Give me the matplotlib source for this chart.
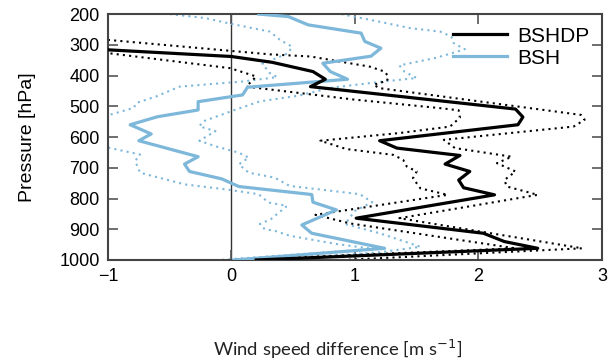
import matplotlib.pyplot as plt

plt.rcParams['font.family'] = ['Liberation Sans', 'DejaVu Sans']

# BSHDP (black) - mean and two bounds, x = wind speed difference, p = pressure
bshdp_p = [200, 250, 300, 338, 357, 387, 412, 436, 509, 535, 560, 612, 636, 660, 688,
           712, 740, 765, 788, 864, 913, 940, 962, 1000]
bshdp_x = [-2.2, -2.0, -1.75, 0.0, 0.33, 0.66, 0.76, 0.64, 2.30, 2.36, 2.32, 1.20, 1.34,
           1.85, 1.73, 1.93, 1.84, 1.88, 2.13, 1.01, 2.04, 2.21, 2.48, 0.2]

bshdp_hi_p = [200, 250, 284, 331, 338, 358, 371, 387, 403, 417, 430, 441, 528, 544, 566,
              609, 636, 664, 685, 712, 740, 761, 788, 864, 962, 1000]
bshdp_hi_x = [-1.9, -1.6, -1.0, 0.31, 0.64, 0.93, 1.12, 1.24, 1.27, 1.26, 1.15, 1.20, 2.83,
              2.86, 2.77, 1.72, 1.81, 2.27, 2.15, 2.30, 2.21, 2.23, 2.48, 1.36, 2.84, 0.9]

bshdp_lo_p = [200, 250, 300, 327, 376, 403, 436, 478, 506, 513, 537, 566, 587, 612, 639,
              658, 674, 696, 712, 734, 767, 788, 853, 881, 935, 962, 1000]
bshdp_lo_x = [-2.5, -2.3, -1.6, -1.0, -0.01, 0.20, 0.12, 0.99, 1.69, 1.84, 1.85, 1.77, 1.36,
              0.72, 0.93, 1.31, 1.39, 1.42, 1.50, 1.47, 1.53, 1.75, 0.68, 0.96, 1.85, 2.30, 0.0]

# BSH (light blue)
bsh_p = [200, 208, 235, 262, 289, 311, 337, 360, 387, 412, 438, 463, 485, 512, 534, 560,
         590, 612, 664, 688, 712, 736, 761, 787, 812, 837, 886, 913, 962, 1000]
bsh_x = [0.22, 0.46, 0.62, 1.05, 1.08, 1.21, 1.13, 0.74, 0.80, 0.94, 0.13, 0.09, -0.27,
         -0.27, -0.60, -0.82, -0.65, -0.75, -0.27, -0.38, -0.34, -0.08, 0.06, 0.65, 0.66,
         0.85, 0.57, 0.65, 1.24, 0.02]

bsh_hi_p = [200, 225, 246, 257, 273, 295, 314, 322, 343, 367, 387, 408, 418, 440, 465, 484,
            510, 549, 565, 581, 612, 630, 651, 667, 689, 716, 732, 759, 786, 812, 840, 883,
            913, 957, 975, 1000]
bsh_hi_x = [0.89, 1.20, 1.45, 1.69, 1.78, 1.80, 1.89, 1.83, 1.65, 1.36, 1.40, 1.50, 1.26,
            0.80, 0.55, 0.23, 0.04, -0.23, -0.26, -0.13, -0.26, -0.13, 0.06, 0.14, 0.06,
            0.14, 0.35, 0.47, 1.04, 1.14, 1.00, 0.92, 1.20, 1.53, 1.2, 0.3]

bsh_lo_p = [200, 213, 232, 257, 283, 306, 327, 362, 392, 405, 419, 436, 468, 489, 505, 527,
            560, 600, 636, 657, 678, 716, 754, 770, 786, 813, 824, 867, 883, 900, 905, 921,
            948, 964, 1000]
bsh_lo_x = [-0.50, -0.21, 0.0, 0.31, 0.39, 0.49, 0.46, 0.25, 0.31, 0.37, 0.10, -0.42, -0.61,
            -0.77, -0.79, -0.98, -1.2, -1.3, -0.98, -0.74, -0.78, -0.74, -0.38, -0.05, 0.22,
            0.30, 0.45, 0.32, 0.23, 0.27, 0.35, 0.47, 0.85, 1.15, -0.1]

xticks = [-1, 0, 1, 2, 3]
xticklabels = ['\u22121', '0', '1', '2', '3']
yticks = [200, 300, 400, 500, 600, 700, 800, 900, 1000]

blue = '#7db7da'
dots = (0, (1, 2))

fig = plt.figure(figsize=(6.08, 3.61), dpi=100)
ax = fig.add_axes([0.1776, 0.2798, 0.8124, 0.6812])

ax.axvline(0, color='#333333', lw=1.0, zorder=1)

ax.plot(bsh_hi_x, bsh_hi_p, color=blue, lw=1.5, ls=dots)
ax.plot(bsh_lo_x, bsh_lo_p, color=blue, lw=1.5, ls=dots)
ax.plot(bshdp_hi_x, bshdp_hi_p, color='black', lw=1.5, ls=dots)
ax.plot(bshdp_lo_x, bshdp_lo_p, color='black', lw=1.5, ls=dots)
ax.plot(bsh_x, bsh_p, color=blue, lw=2.3, label='BSH', zorder=4)
ax.plot(bshdp_x, bshdp_p, color='black', lw=2.3, label='BSHDP', zorder=5)

ax.set_xlim(-1, 3)
ax.set_ylim(1000, 200)
ax.set_xticks(xticks)
ax.set_xticklabels(xticklabels)
ax.set_yticks(yticks)
ax.tick_params(direction='in', length=7, width=1.2, labelsize=13, top=True, right=True,
               color='#555555', pad=6)
for s in ax.spines.values():
    s.set_color('#444444')
    s.set_linewidth(1.5)

ax.set_ylabel('Pressure [hPa]', fontsize=14, labelpad=17)
fig.text(0.556, 0.0, 'Wind speed difference [m s$^{-1}$]', fontsize=13.3,
         family=['Lato', 'DejaVu Sans'], ha='center', va='bottom', color='#222222')

h, l = ax.get_legend_handles_labels()
ax.legend(h[::-1], l[::-1], loc='upper right', bbox_to_anchor=(1.0, 1.0), frameon=False,
          fontsize=15, handlelength=2.6, handletextpad=0.5, labelspacing=0.15,
          borderaxespad=0.2)

fig.savefig('out.png', dpi=100)
